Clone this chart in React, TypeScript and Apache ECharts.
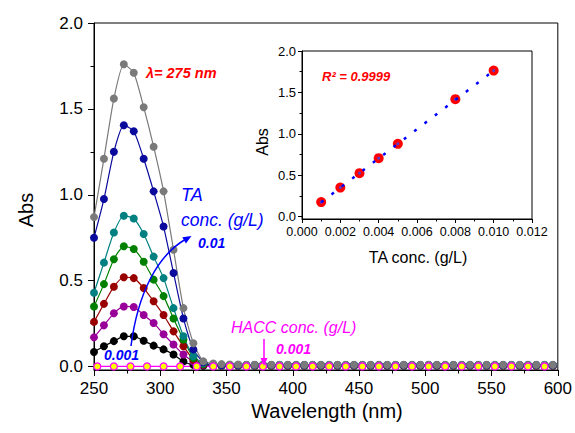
import React, { useEffect, useRef } from 'react';
import * as echarts from 'echarts';

// Wavelength positions of the TA spectra markers (nm)
const wavelengths = [
  250, 257.5, 265, 272.5, 280, 287.5, 295, 302.5, 310, 317.5, 325, 332.5,
  340, 346.25, 352.5, 358.75, 365, 371.25, 377.5, 383.75, 390, 396.25, 402.5, 408.75, 415, 421.25,
  427.5, 433.75, 440, 446.25, 452.5, 458.75, 465, 471.25, 477.5, 483.75, 490, 496.25, 502.5, 508.75,
  515, 521.25, 527.5, 533.75, 540, 546.25, 552.5, 558.75, 565, 571.25, 577.5, 583.75, 590, 596.25,
];

// TA spectra (absorbance) for 0.001 ... 0.01 g/L
const ta001 = [
  0.085, 0.118, 0.148, 0.176, 0.176, 0.15, 0.122, 0.1, 0.07, 0.03, 0.01, 0.005,
  0.004, 0.004, 0.004, 0.004, 0.004, 0.004, 0.004, 0.004, 0.004, 0.004, 0.004, 0.004, 0.004, 0.004,
  0.004, 0.004, 0.004, 0.004, 0.004, 0.004, 0.004, 0.004, 0.004, 0.004, 0.004, 0.004, 0.004, 0.004,
  0.004, 0.004, 0.004, 0.004, 0.004, 0.004, 0.004, 0.004, 0.004, 0.004, 0.004, 0.004, 0.004, 0.004,
];
const ta002 = [
  0.17, 0.24, 0.31, 0.35, 0.347, 0.3, 0.254, 0.188, 0.128, 0.07, 0.03, 0.01,
  0.005, 0.005, 0.005, 0.005, 0.005, 0.005, 0.005, 0.005, 0.005, 0.005, 0.005, 0.005, 0.005, 0.005,
  0.005, 0.005, 0.005, 0.005, 0.005, 0.005, 0.005, 0.005, 0.005, 0.005, 0.005, 0.005, 0.005, 0.005,
  0.005, 0.005, 0.005, 0.005, 0.005, 0.005, 0.005, 0.005, 0.005, 0.005, 0.005, 0.005, 0.005, 0.005,
];
const ta003 = [
  0.26, 0.365, 0.465, 0.52, 0.515, 0.457, 0.38, 0.3, 0.205, 0.118, 0.04, 0.012,
  0.006, 0.006, 0.006, 0.006, 0.006, 0.006, 0.006, 0.006, 0.006, 0.006, 0.006, 0.006, 0.006, 0.006,
  0.006, 0.006, 0.006, 0.006, 0.006, 0.006, 0.006, 0.006, 0.006, 0.006, 0.006, 0.006, 0.006, 0.006,
  0.006, 0.006, 0.006, 0.006, 0.006, 0.006, 0.006, 0.006, 0.006, 0.006, 0.006, 0.006, 0.006, 0.006,
];
const ta004 = [
  0.35, 0.48, 0.625, 0.7, 0.684, 0.61, 0.506, 0.41, 0.28, 0.157, 0.05, 0.015,
  0.007, 0.007, 0.007, 0.007, 0.007, 0.007, 0.007, 0.007, 0.007, 0.007, 0.007, 0.007, 0.007, 0.007,
  0.007, 0.007, 0.007, 0.007, 0.007, 0.007, 0.007, 0.007, 0.007, 0.007, 0.007, 0.007, 0.007, 0.007,
  0.007, 0.007, 0.007, 0.007, 0.007, 0.007, 0.007, 0.007, 0.007, 0.007, 0.007, 0.007, 0.007, 0.007,
];
const ta005 = [
  0.43, 0.605, 0.78, 0.878, 0.862, 0.772, 0.64, 0.515, 0.34, 0.176, 0.06, 0.02,
  0.008, 0.008, 0.008, 0.008, 0.008, 0.008, 0.008, 0.008, 0.008, 0.008, 0.008, 0.008, 0.008, 0.008,
  0.008, 0.008, 0.008, 0.008, 0.008, 0.008, 0.008, 0.008, 0.008, 0.008, 0.008, 0.008, 0.008, 0.008,
  0.008, 0.008, 0.008, 0.008, 0.008, 0.008, 0.008, 0.008, 0.008, 0.008, 0.008, 0.008, 0.008, 0.008,
];
const ta008 = [
  0.75, 0.975, 1.25, 1.405, 1.37, 1.21, 1.02, 0.815, 0.545, 0.28, 0.1, 0.025,
  0.009, 0.009, 0.009, 0.009, 0.009, 0.009, 0.009, 0.009, 0.009, 0.009, 0.009, 0.009, 0.009, 0.009,
  0.009, 0.009, 0.009, 0.009, 0.009, 0.009, 0.009, 0.009, 0.009, 0.009, 0.009, 0.009, 0.009, 0.009,
  0.009, 0.009, 0.009, 0.009, 0.009, 0.009, 0.009, 0.009, 0.009, 0.009, 0.009, 0.009, 0.009, 0.009,
];
const ta010 = [
  0.87, 1.21, 1.56, 1.76, 1.71, 1.51, 1.28, 1.02, 0.68, 0.34, 0.136, 0.03,
  0.018, 0.014, 0.012, 0.012, 0.011, 0.011, 0.011, 0.011, 0.01, 0.01, 0.01, 0.01, 0.01, 0.01,
  0.01, 0.01, 0.01, 0.01, 0.01, 0.01, 0.01, 0.01, 0.01, 0.01, 0.01, 0.01, 0.01, 0.01,
  0.01, 0.01, 0.01, 0.01, 0.01, 0.01, 0.01, 0.01, 0.01, 0.01, 0.01, 0.01, 0.01, 0.01,
];

// HACC 0.001 g/L spectrum
const haccWavelengths = [
  252.5, 265, 277.5, 290, 302.5, 315, 327.5, 340, 352.5, 365, 377.5, 390, 402.5, 415,
  427.5, 440, 452.5, 465, 477.5, 490, 502.5, 515, 527.5, 540, 552.5, 565, 577.5, 590,
];
const haccAbs = [
  0.001, 0.001, 0.001, 0.001, 0.001, 0.001, 0.001, 0.001, 0.001, 0.001, 0.001, 0.001, 0.001, 0.001,
  0.001, 0.001, 0.001, 0.001, 0.001, 0.001, 0.001, 0.001, 0.001, 0.001, 0.001, 0.001, 0.001, 0.001,
];

// Inset: calibration
const taConc = [0.001, 0.002, 0.003, 0.004, 0.005, 0.008, 0.01];
const taPeakAbs = [0.174, 0.35, 0.524, 0.705, 0.878, 1.418, 1.763];
const fitLine = [[0.001, 0.172], [0.01, 1.762]];

const mainYTicks = [0, 0.5, 1.0, 1.5, 2.0];
const mainYMinor = [0.25, 0.75, 1.25, 1.75];
const insetYTicks = [0, 0.5, 1.0, 1.5, 2.0];
const insetYMinor = [0.25, 0.75, 1.25, 1.75];

const taSeries = [
  { name: '0.001', data: ta001, color: '#000000' },
  { name: '0.002', data: ta002, color: '#990099' },
  { name: '0.003', data: ta003, color: '#990000' },
  { name: '0.004', data: ta004, color: '#008000' },
  { name: '0.005', data: ta005, color: '#008080' },
  { name: '0.008', data: ta008, color: '#0a0a9c' },
  { name: '0.01', data: ta010, color: '#7a7a7a' },
];

const FONT = '"Liberation Sans", Arial, Helvetica, sans-serif';

function txt(text: string, x: number, y: number, opts: any = {}) {
  return {
    type: 'text',
    x,
    y,
    rotation: opts.rotation || 0,
    z: 100,
    silent: true,
    style: {
      text,
      fill: opts.color || '#000',
      fontSize: opts.size || 16,
      fontFamily: FONT,
      fontStyle: opts.italic ? 'italic' : 'normal',
      fontWeight: opts.bold ? 'bold' : 'normal',
      align: opts.align || 'left',
      textAlign: opts.align || 'left',
      verticalAlign: 'middle',
      textVerticalAlign: 'middle',
    },
  };
}

export default function App() {
  const ref = useRef<HTMLDivElement>(null);
  useEffect(() => {
    const chart = echarts.init(ref.current!, null, { renderer: 'svg' });
    const axisCommon = {
      axisLine: { show: true, onZero: false, lineStyle: { color: '#000', width: 1 } },
      splitLine: { show: false },
      minorSplitLine: { show: false },
    };
    const option: any = {
      animation: false,
      backgroundColor: '#fff',
      grid: [
        { left: 94, right: 14, top: 23, bottom: 63, show: true, borderColor: '#000', borderWidth: 1, backgroundColor: 'transparent' },
        { left: 302, right: 43, top: 51, bottom: 214, show: true, borderColor: '#000', borderWidth: 1, backgroundColor: '#fff' },
      ],
      xAxis: [
        {
          ...axisCommon,
          gridIndex: 0,
          type: 'value',
          min: 250,
          max: 600,
          interval: 50,
          axisTick: { show: true, inside: false, length: 6, lineStyle: { color: '#000' } },
          minorTick: { show: true, splitNumber: 2, length: 3.5, lineStyle: { color: '#000' } },
          axisLabel: { fontSize: 17, color: '#000', fontFamily: FONT, margin: 10 },
        },
        {
          ...axisCommon,
          gridIndex: 1,
          type: 'value',
          min: 0,
          max: 0.012,
          interval: 0.002,
          axisTick: { show: true, inside: false, length: 4, lineStyle: { color: '#000' } },
          minorTick: { show: true, splitNumber: 2, length: 2.5, lineStyle: { color: '#000' } },
          axisLabel: { fontSize: 12.5, color: '#000', fontFamily: FONT, margin: 6, formatter: (v: number) => v.toFixed(3) },
        },
      ],
      yAxis: [
        {
          ...axisCommon,
          gridIndex: 0,
          type: 'value',
          min: -0.02,
          max: 2.0,
          axisTick: { show: true, inside: false, length: 6, customValues: mainYTicks, lineStyle: { color: '#000' } },
          axisLabel: { fontSize: 17, color: '#000', fontFamily: FONT, margin: 11, customValues: mainYTicks, formatter: (v: number) => v.toFixed(1) },
        },
        {
          gridIndex: 0,
          type: 'value',
          min: -0.02,
          max: 2.0,
          position: 'left',
          axisLine: { show: false, onZero: false },
          splitLine: { show: false },
          axisTick: { show: true, inside: false, length: 3.5, customValues: mainYMinor, lineStyle: { color: '#000' } },
          axisLabel: { show: false },
        },
        {
          ...axisCommon,
          gridIndex: 1,
          type: 'value',
          min: -0.03,
          max: 2.0,
          axisTick: { show: true, inside: false, length: 4, customValues: insetYTicks, lineStyle: { color: '#000' } },
          axisLabel: { fontSize: 13, color: '#000', fontFamily: FONT, margin: 6, customValues: insetYTicks, formatter: (v: number) => v.toFixed(1) },
        },
        {
          gridIndex: 1,
          type: 'value',
          min: -0.03,
          max: 2.0,
          position: 'left',
          axisLine: { show: false, onZero: false },
          splitLine: { show: false },
          axisTick: { show: true, inside: false, length: 2.5, customValues: insetYMinor, lineStyle: { color: '#000' } },
          axisLabel: { show: false },
        },
      ],
      series: [
        ...taSeries.map((s) => ({
          type: 'line',
          name: s.name,
          xAxisIndex: 0,
          yAxisIndex: 0,
          data: wavelengths.map((w, i) => [w, s.data[i]]),
          smooth: 0.2,
          symbol: 'circle',
          symbolSize: 8,
          showSymbol: true,
          showAllSymbol: true,
          silent: true,
          itemStyle: { color: s.color },
          lineStyle: { color: s.color, width: 1.2 },
          emphasis: { disabled: true },
        })),
        {
          type: 'line',
          name: 'HACC',
          xAxisIndex: 0,
          yAxisIndex: 0,
          data: haccWavelengths.map((w, i) => [w, haccAbs[i]]),
          symbol: 'circle',
          symbolSize: 7,
          showSymbol: true,
          silent: true,
          itemStyle: { color: '#ffff00', borderColor: '#ff00ff', borderWidth: 1.2 },
          lineStyle: { color: '#ff00ff', width: 1.2 },
          emphasis: { disabled: true },
        },
        {
          type: 'scatter',
          xAxisIndex: 1,
          yAxisIndex: 2,
          data: taConc.map((c, i) => [c, taPeakAbs[i]]),
          symbol: 'circle',
          symbolSize: 10,
          silent: true,
          itemStyle: { color: '#ff0000', opacity: 1 },
          emphasis: { disabled: true },
        },
        {
          type: 'line',
          xAxisIndex: 1,
          yAxisIndex: 2,
          data: fitLine,
          showSymbol: false,
          silent: true,
          lineStyle: { color: '#0000ff', width: 2.5, type: [3, 10] },
          emphasis: { disabled: true },
        },
        {
          type: 'scatter',
          xAxisIndex: 1,
          yAxisIndex: 2,
          data: taConc.map((c, i) => [c, taPeakAbs[i]]),
          symbol: 'circle',
          symbolSize: 3,
          silent: true,
          itemStyle: { color: '#5a3acc', opacity: 1 },
          emphasis: { disabled: true },
        },
      ],
      graphic: [
        txt('Abs', 26, 210, { size: 20, rotation: Math.PI / 2, align: 'center' }),
        txt('Wavelength (nm)', 327, 411, { size: 20, align: 'center' }),
        txt('Abs', 262, 142, { size: 16, rotation: Math.PI / 2, align: 'center' }),
        txt('TA conc. (g/L)', 418, 257, { size: 16, align: 'center' }),
        txt('λ= 275 nm', 146, 73, { size: 14.5, bold: true, italic: true, color: '#ff0000' }),
        txt('R² = 0.9999', 322, 76, { size: 13, bold: true, italic: true, color: '#ff0000' }),
        txt('TA', 181, 195, { size: 18, italic: true, color: '#0000ff' }),
        txt('conc. (g/L)', 181, 220, { size: 17.5, italic: true, color: '#0000ff' }),
        txt('0.01', 198, 243, { size: 14, bold: true, italic: true, color: '#0000ff' }),
        txt('0.001', 104, 355, { size: 14, bold: true, italic: true, color: '#0000ff' }),
        txt('HACC conc. (g/L)', 231, 327, { size: 16, italic: true, color: '#ff00ff' }),
        txt('0.001', 276, 349, { size: 14, bold: true, italic: true, color: '#ff00ff' }),
        {
          type: 'bezierCurve',
          z: 100,
          silent: true,
          shape: { x1: 131, y1: 346, cpx1: 138, cpy1: 292, cpx2: 158, cpy2: 255, x2: 186, y2: 239 },
          style: { stroke: '#0000ff', lineWidth: 1.5, fill: 'none' },
        },
        {
          type: 'polygon',
          z: 100,
          silent: true,
          shape: { points: [[191.5, 236], [185.9, 243.6], [182.3, 237.2]] },
          style: { fill: '#0000ff' },
        },
        {
          type: 'line',
          z: 100,
          silent: true,
          shape: { x1: 264, y1: 339, x2: 264, y2: 360 },
          style: { stroke: '#ff00ff', lineWidth: 1.5 },
        },
        {
          type: 'polygon',
          z: 100,
          silent: true,
          shape: { points: [[260.5, 358], [267.5, 358], [264, 366]] },
          style: { fill: '#ff00ff' },
        },
      ],
    };
    chart.setOption(option);
    return () => chart.dispose();
  }, []);
  return <div ref={ref} style={{ position: 'absolute', left: 0, top: 0, width: 575, height: 433 }} />;
}
